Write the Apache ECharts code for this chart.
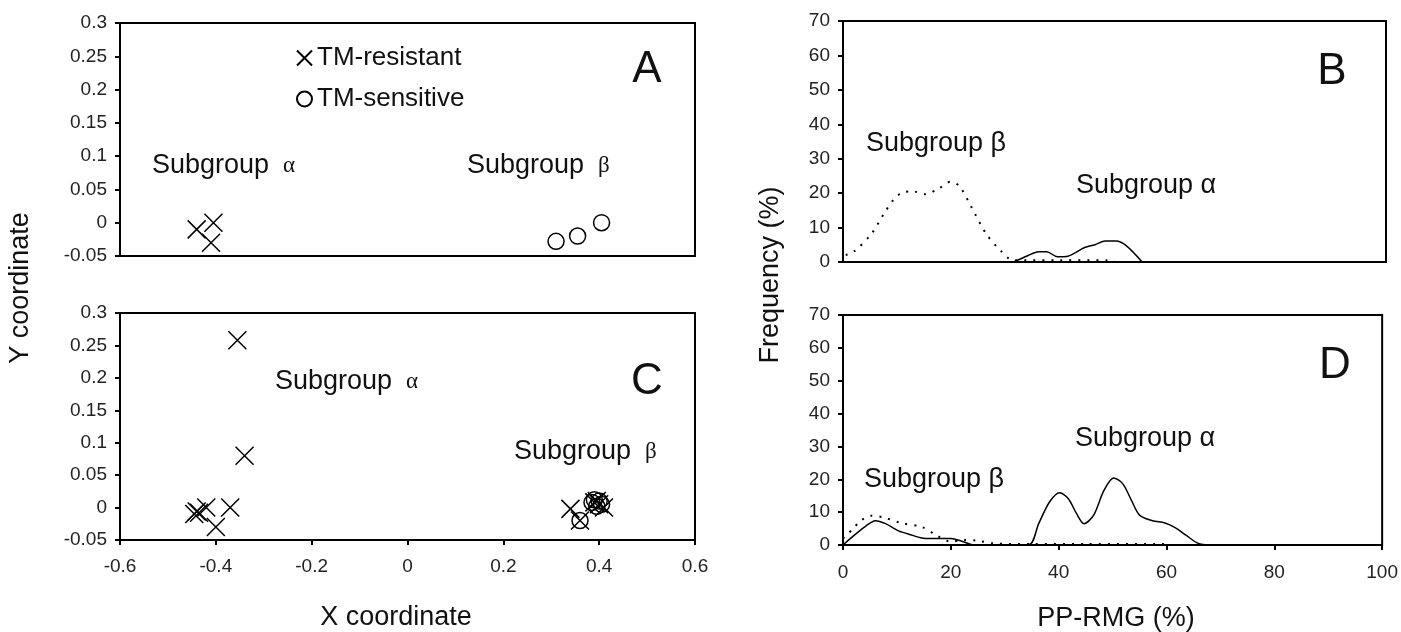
<!DOCTYPE html>
<html>
<head>
<meta charset="utf-8">
<script src="https://cdn.jsdelivr.net/npm/echarts@6/dist/echarts.min.js"></script>
<style>
  html, body { margin: 0; padding: 0; background: #fff; }
  #chart { width: 1401px; height: 632px; }
</style>
</head>
<body>
<div id="chart"></div>
<script>
// coordinate plots (A, C)
const coordTicksY = [-0.05, 0, 0.05, 0.1, 0.15, 0.2, 0.25, 0.3];
const coordTicksX = [-0.6, -0.4, -0.2, 0, 0.2, 0.4, 0.6];
const aResistant = [[-0.44, -0.01], [-0.405, 0.0], [-0.41, -0.03]];
const aSensitive = [[0.31, -0.028], [0.355, -0.02], [0.405, 0.0]];
const cResistant = [
  [-0.445, -0.01], [-0.44, -0.006], [-0.435, -0.008], [-0.42, 0.0], [-0.37, 0.0],
  [-0.40, -0.03], [-0.355, 0.258], [-0.34, 0.08],
  [0.34, -0.002], [0.36, -0.02], [0.39, 0.008], [0.395, 0.01], [0.41, 0.0], [0.40, 0.005]
];
const cSensitive = [[0.36, -0.02], [0.385, 0.008], [0.39, 0.012], [0.40, 0.01], [0.395, 0.002], [0.405, 0.005]];

// frequency plots (B, D): [PP-RMG %, frequency %]
const freqTicksX = [0, 20, 40, 60, 80, 100];
const bDotted = [
  [0.5, 2], [2, 3], [5.2, 8.1], [7.5, 13.9], [9.4, 18.3], [11, 20.2], [12.9, 20.5], [15.2, 19.7],
  [17.5, 21.2], [19.8, 23.3], [21.4, 22.1], [23.7, 15.8], [26.4, 8.1], [29.1, 3.2], [31.4, 0.5],
  [40, 0.5], [50, 0.5]
];
const bSolid = [
  [31.4, 0], [34, 1.8], [36, 3], [37.5, 3], [39.5, 1.5], [41.4, 1.7], [44.5, 4.2], [46.4, 5],
  [48.3, 6.1], [50.3, 6.1], [52.2, 4.7], [55.1, 0]
];
const dDotted = [
  [0, 2], [1.7, 4.7], [3.3, 7.4], [5.2, 8.9], [7.5, 8.4], [10.7, 6.7], [14.6, 5.5], [17.3, 3],
  [20, 1], [22.3, 1.5], [25, 1.3], [27.8, 0.5], [35, 0.3], [45, 0.3], [59.7, 0.3]
];
const dSolid = [
  [0, 0], [2.1, 3], [4.4, 6], [6, 7.4], [7.9, 6.5], [10.3, 4.3], [12.2, 3.3], [15.3, 2], [20, 2],
  [22.3, 1], [24.3, 0], [34.4, 0], [36.3, 6.5], [38.3, 13.1], [40.2, 15.9], [41.8, 14.1],
  [43.3, 9.6], [44.7, 6.5], [46.5, 9.1], [48.4, 16.6], [50.2, 20.4], [51.9, 18.6], [53.5, 13.6],
  [55, 9.1], [57.4, 7.4], [59.7, 6.7], [61.6, 5.3], [63.6, 3], [65.9, 0.5], [69, 0]
];

const SANS = '"Liberation Sans", Arial, sans-serif';
const SERIF = '"Liberation Serif", "DejaVu Serif", serif';
const crossPath = 'path://M0,0L10,10M10,0L0,10';

const chart = echarts.init(document.getElementById('chart'));

function grid(left, top, width, height) {
  return { left, top, width, height, show: true, borderColor: '#000', borderWidth: 2, backgroundColor: 'transparent' };
}

function valueAxis(idx, min, max, step, showLabel, fmt) {
  return {
    type: 'value', gridIndex: idx, min, max, interval: step,
    splitLine: { show: false },
    axisLine: { show: true, onZero: false, lineStyle: { color: '#000', width: 2 } },
    axisTick: { show: showLabel, inside: false, length: 5, lineStyle: { color: '#000', width: 2 } },
    axisLabel: { show: showLabel, color: '#222', fontFamily: SANS, fontSize: 19, margin: 13, formatter: fmt }
  };
}

const fmtNum = v => String(+v.toFixed(2));

const xAxes = [
  valueAxis(0, coordTicksX[0], coordTicksX[coordTicksX.length - 1], 0.2, false, fmtNum),
  valueAxis(1, coordTicksX[0], coordTicksX[coordTicksX.length - 1], 0.2, true, fmtNum),
  valueAxis(2, freqTicksX[0], freqTicksX[freqTicksX.length - 1], 20, false, fmtNum),
  valueAxis(3, freqTicksX[0], freqTicksX[freqTicksX.length - 1], 20, true, fmtNum)
];
xAxes[1].axisLabel.margin = 17;
xAxes[3].axisLabel.margin = 18;

const yAxes = [
  valueAxis(0, coordTicksY[0], coordTicksY[coordTicksY.length - 1], 0.05, true, fmtNum),
  valueAxis(1, coordTicksY[0], coordTicksY[coordTicksY.length - 1], 0.05, true, fmtNum),
  valueAxis(2, 0, 70, 10, true, fmtNum),
  valueAxis(3, 0, 70, 10, true, fmtNum)
];

function crossSeries(idx, data) {
  return {
    name: 'TM-resistant', type: 'scatter', xAxisIndex: idx, yAxisIndex: idx, data,
    symbol: crossPath, symbolSize: 18,
    itemStyle: { color: 'transparent', borderColor: '#000', borderWidth: 1.5, opacity: 1 }
  };
}
function circleSeries(idx, data) {
  return {
    name: 'TM-sensitive', type: 'scatter', xAxisIndex: idx, yAxisIndex: idx, data,
    symbol: 'circle', symbolSize: 16,
    itemStyle: { color: 'transparent', borderColor: '#000', borderWidth: 1.5, opacity: 1 }
  };
}
function lineSeries(idx, data, dotted) {
  return {
    type: 'line', xAxisIndex: idx, yAxisIndex: idx, data,
    showSymbol: false, smooth: 0.3,
    lineStyle: { color: '#000', width: dotted ? 2 : 1.5, type: dotted ? [2, 7] : 'solid' }
  };
}

function subgroup(x, y, main, greek, serifGreek) {
  return {
    type: 'text', x, y,
    style: {
      text: serifGreek ? `{s|${main}}{g|${greek}}` : `{s|${main} ${greek}}`,
      verticalAlign: 'middle',
      rich: {
        s: { fontFamily: SANS, fontSize: 27, fill: '#111' },
        g: { fontFamily: SERIF, fontSize: 23, fill: '#111', padding: [0, 0, 0, 14] }
      }
    }
  };
}

function bigText(x, y, text, size, rotate) {
  return {
    type: 'text', x, y, rotation: rotate ? Math.PI / 2 : 0,
    style: { text, font: `${size}px ${SANS}`, fill: '#111', align: 'center', verticalAlign: 'middle' }
  };
}

chart.setOption({
  animation: false,
  textStyle: { fontFamily: SANS },
  grid: [
    grid(120, 23, 575, 233),
    grid(120, 313, 575, 227),
    grid(843, 21, 543, 241),
    grid(843, 315, 542, 230)
  ],
  xAxis: xAxes,
  yAxis: yAxes,
  legend: {
    data: ['TM-resistant', 'TM-sensitive'],
    orient: 'vertical', left: 291, top: 40,
    itemWidth: 15, itemHeight: 15, itemGap: 15,
    textStyle: { fontFamily: SANS, fontSize: 26, color: '#111' }
  },
  series: [
    crossSeries(0, aResistant),
    circleSeries(0, aSensitive),
    crossSeries(1, cResistant),
    circleSeries(1, cSensitive),
    lineSeries(2, bDotted, true),
    lineSeries(2, bSolid, false),
    lineSeries(3, dDotted, true),
    lineSeries(3, dSolid, false)
  ],
  graphic: [
    bigText(647, 70, 'A', 44),
    bigText(1332, 72, 'B', 44),
    bigText(647, 382, 'C', 44),
    bigText(1335, 366, 'D', 44),
    subgroup(152, 166, 'Subgroup', 'α', true),
    subgroup(467, 166, 'Subgroup', 'β', true),
    subgroup(275, 382, 'Subgroup', 'α', true),
    subgroup(514, 452, 'Subgroup', 'β', true),
    subgroup(866, 144, 'Subgroup', 'β', false),
    subgroup(1076, 186, 'Subgroup', 'α', false),
    subgroup(864, 480, 'Subgroup', 'β', false),
    subgroup(1075, 439, 'Subgroup', 'α', false),
    bigText(396, 618, 'X coordinate', 27),
    bigText(1116, 619, 'PP-RMG (%)', 27),
    bigText(21, 288, 'Y coordinate', 27, true),
    bigText(771, 275, 'Frequency (%)', 27, true)
  ]
});
</script>
</body>
</html>
